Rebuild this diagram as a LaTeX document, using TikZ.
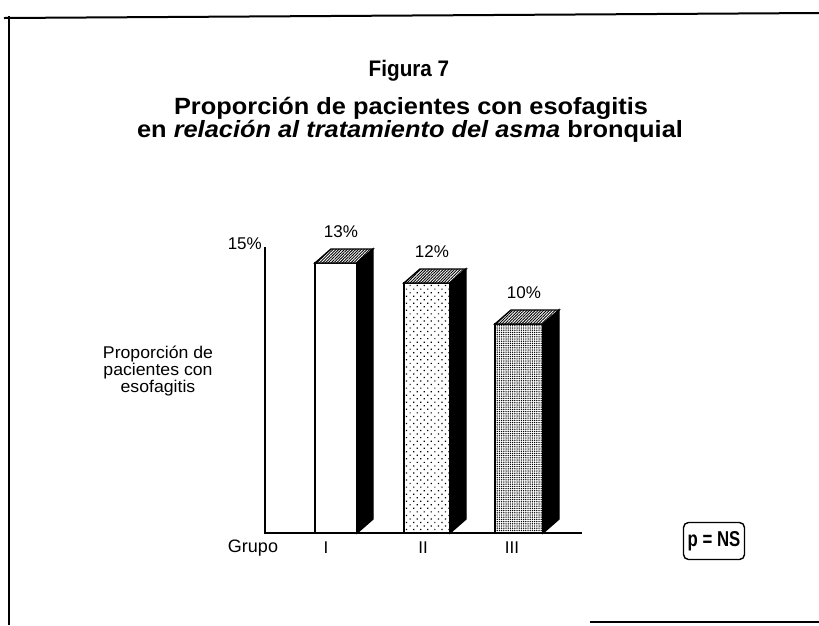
\documentclass[tikz,border=0pt]{standalone}
\usepackage{fontspec}
\setmainfont{Liberation Sans}
\usetikzlibrary{patterns,patterns.meta}
\begin{document}
\begin{tikzpicture}[x=1pt,y=-1pt,
  frame/.style={line width=2pt,black},
  axis/.style={line width=1.6pt,black},
  barline/.style={line width=1.4pt,black,line join=miter},
  small/.style={font=\fontsize{17}{17}\selectfont},
  big/.style={font=\bfseries\fontsize{22.5}{23}\selectfont},
  ttl/.style={font=\bfseries\fontsize{23.5}{23}\selectfont},
  topface/.style={barline,preaction={fill=white},pattern={Lines[angle=45,distance=2pt,line width=0.9pt]}}]
\useasboundingbox (0,0) rectangle (819,625);
% frame
\draw[frame] (4,18) -- (819,13);
\draw[frame] (9,16) -- (9,625);
\draw[frame] (590,622) -- (819,622);
% titles
\node[big] (fig) at (409,71) {\scalebox{0.92}[1]{Figura 7}};
\node[ttl] (title1) at (411,108) {\scalebox{1.08}[1]{Proporción de pacientes con esofagitis}};
\node[ttl] (title2) at (410,131) {\scalebox{1.08}[1]{en \textit{relación al tratamiento del asma} bronquial}};
% axes
\coordinate (o) at (265,533);
\coordinate (ytop) at (265,247);
\coordinate (xend) at (582,533);
\draw[axis] (ytop) -- (o) -- (xend);
\node[small,anchor=south east,inner sep=1pt] (y15) at (263,251) {15\%};
\node[small,align=center] (ylab) at (158,371) {\scalebox{1.04}[1]{Proporción de}\\\scalebox{1.04}[1]{pacientes con}\\\scalebox{1.04}[1]{esofagitis}};
\def\dx{16}\def\dy{14}
% Bar I
\draw[barline,fill=white] (315,533) rectangle (357,263);
\draw[topface] (315,263) -- ++(\dx,-\dy) -- (373,249) -- (357,263) -- cycle;
\filldraw[barline] (357,263) -- (373,249) -- (373,519) -- (357,533) -- cycle;
% Bar II
\draw[barline,preaction={fill=white},pattern={Dots[distance=5pt,radius=0.85pt,angle=45]}] (404,533) rectangle (450,283);
\draw[topface] (404,283) -- ++(\dx,-\dy) -- (466,269) -- (450,283) -- cycle;
\filldraw[barline] (450,283) -- (466,269) -- (466,519) -- (450,533) -- cycle;
% Bar III
\draw[barline,preaction={fill=white},pattern={Dots[distance=2.2pt,radius=0.75pt]}] (495,533) rectangle (543,324);
\draw[topface] (495,324) -- ++(\dx,-\dy) -- (559,310) -- (543,324) -- cycle;
\filldraw[barline] (543,324) -- (559,310) -- (559,519) -- (543,533) -- cycle;
% value labels
\node[small] (v1) at (341,232) {13\%};
\node[small] (v2) at (432,252) {12\%};
\node[small] (v3) at (524,293) {10\%};
% group labels
\node[small,font=\fontsize{18}{18}\selectfont] (grp) at (253,548) {Grupo};
\node[small] (g1) at (326,548) {I};
\node[small] (g2) at (423,548) {II};
\node[small] (g3) at (512,548) {III};
% p = NS box
\node[draw,line width=1.4pt,rounded corners=5pt,minimum width=61pt,minimum height=37pt,inner sep=0pt,
  font=\bfseries\fontsize{21.5}{22}\selectfont] (p) at (714,541) {\scalebox{0.78}[1]{p = NS}};
\end{tikzpicture}
\end{document}
